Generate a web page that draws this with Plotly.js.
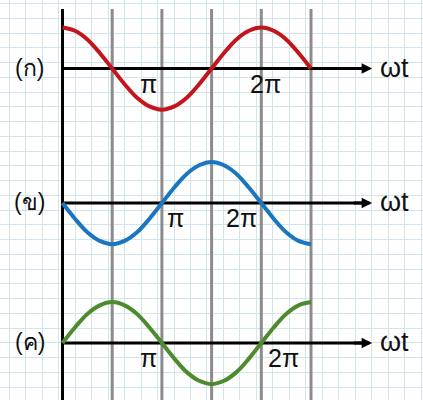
<!DOCTYPE html>
<html>
<head>
<meta charset="utf-8">
<script src="https://cdn.plot.ly/plotly-3.0.1.min.js"></script>
<style>
  html, body { margin: 0; padding: 0; background: #ffffff; }
  #chart { width: 423px; height: 400px; }
</style>
</head>
<body>
<div id="chart"></div>
<script>
// Phase in quarter periods (each grey guide line is a quarter period apart)
const phase = [0, 0.25, 0.5, 0.75, 1, 1.25, 1.5, 1.75, 2, 2.25, 2.5, 2.75, 3,
               3.25, 3.5, 3.75, 4, 4.25, 4.5, 4.75, 5];

// Wave (ก): starts at its peak
const waveA = [1, 0.92, 0.71, 0.38, 0, -0.38, -0.71, -0.92, -1, -0.92, -0.71, -0.38, 0,
               0.38, 0.71, 0.92, 1, 0.92, 0.71, 0.38, 0];
// Wave (ข): starts at zero going down
const waveB = [0, -0.38, -0.71, -0.92, -1, -0.92, -0.71, -0.38, 0, 0.38, 0.71, 0.92, 1,
               0.92, 0.71, 0.38, 0, -0.38, -0.71, -0.92, -1];
// Wave (ค): starts at zero going up
const waveC = [0, 0.38, 0.71, 0.92, 1, 0.92, 0.71, 0.38, 0, -0.38, -0.71, -0.92, -1,
               -0.92, -0.71, -0.38, 0, 0.38, 0.71, 0.92, 1];

const rowLabels = ['(ก)', '(ข)', '(ค)'];
const axisName = 'ωt';
// Text marks under each time axis: [label, phase position]
const marksA = [['π', 1.74], ['2π', 4.08]];
const marksB = [['π', 2.28], ['2π', 3.61]];
const marksC = [['π', 1.74], ['2π', 4.44]];
const guideLines = [1, 2, 3, 4, 5];

const colors = ['#c3161c', '#1b76c0', '#4e8b2e'];
const rows = [
  { y: waveA, axis: 'y2', range: [-8.07, 1.67], marks: marksA },
  { y: waveB, axis: 'y3', range: [-4.79, 4.94], marks: marksB },
  { y: waveC, axis: 'y4', range: [-1.39, 8.37], marks: marksC }
];

const font = { family: 'Liberation Sans, Arial, sans-serif', color: '#111111' };
const tipPhase = 6.23;
// Vertical extent of the guide lines on the background axis (top..bottom)
const guideTop = 9, guideBottom = 400;

const traces = [];

// Grey quarter-period guides, as one broken line
const gx = [], gy = [];
guideLines.forEach(g => { gx.push(g, g, null); gy.push(guideBottom, guideTop, null); });
traces.push({ type: 'scatter', mode: 'lines', x: gx, y: gy, xaxis: 'x', yaxis: 'y',
  line: { color: '#8c8c8c', width: 3 }, hoverinfo: 'skip', showlegend: false });

// Black vertical axis
traces.push({ type: 'scatter', mode: 'lines', x: [0, 0], y: [guideBottom, guideTop],
  xaxis: 'x', yaxis: 'y', line: { color: '#000000', width: 3 },
  hoverinfo: 'skip', showlegend: false });

// Time axes (drawn before the waves so the waves sit on top)
rows.forEach(r => traces.push({
  type: 'scatter', mode: 'lines', x: [0, tipPhase - 0.1], y: [0, 0],
  xaxis: 'x', yaxis: r.axis, line: { color: '#000000', width: 3 },
  hoverinfo: 'skip', showlegend: false
}));

// Waves
rows.forEach((r, i) => traces.push({
  type: 'scatter', mode: 'lines',
  x: phase, y: r.y, xaxis: 'x', yaxis: r.axis,
  line: { color: colors[i], width: 4, shape: 'spline', smoothing: 1 },
  hoverinfo: 'skip', showlegend: false
}));

const annotations = [];
rows.forEach((r, i) => {
  // Arrow head
  annotations.push({
    xref: 'x', yref: r.axis, axref: 'x', ayref: r.axis,
    x: tipPhase, y: 0, ax: tipPhase - 0.4, ay: 0, text: '',
    showarrow: true, arrowhead: 2, arrowsize: 0.7, arrowwidth: 3,
    arrowcolor: '#000000', standoff: 0, startstandoff: 0
  });
  // ωt
  annotations.push({
    xref: 'x', yref: r.axis, x: 6.69, y: 0, text: axisName, showarrow: false,
    font: Object.assign({ size: 27 }, font), xanchor: 'center', yanchor: 'middle', yshift: 1
  });
  // Row label
  annotations.push({
    xref: 'x', yref: r.axis, x: -0.655, y: 0, text: rowLabels[i], showarrow: false,
    font: Object.assign({ size: 23 }, font), xanchor: 'center', yanchor: 'middle', yshift: 1
  });
  // π markers
  r.marks.forEach(m => annotations.push({
    xref: 'x', yref: r.axis, x: m[1], y: 0, text: m[0], showarrow: false,
    font: Object.assign({ size: 25 }, font), xanchor: 'center', yanchor: 'middle', yshift: -15
  }));
});

const hiddenY = {
  overlaying: 'y', showgrid: false, zeroline: false, showticklabels: false,
  showline: false, ticks: '', fixedrange: true
};

const layout = {
  width: 423, height: 400,
  margin: { l: 0, r: 0, t: 0, b: 0, pad: 0 },
  paper_bgcolor: '#ffffff', plot_bgcolor: '#ffffff',
  showlegend: false,
  xaxis: {
    range: [-1.2575, 7.2535], domain: [0, 1],
    showgrid: true, gridcolor: '#d2e5eb', gridwidth: 1,
    tick0: -1.0704, dtick: 0.3314, ticks: '',
    showticklabels: false, zeroline: false, showline: false, fixedrange: true
  },
  yaxis: {
    range: [400, 0], domain: [0, 1],
    showgrid: true, gridcolor: '#d2e5eb', gridwidth: 1,
    tick0: 3.7, dtick: 14.75, ticks: '',
    showticklabels: false, zeroline: false, showline: false, fixedrange: true
  },
  yaxis2: Object.assign({ range: rows[0].range }, hiddenY),
  yaxis3: Object.assign({ range: rows[1].range }, hiddenY),
  yaxis4: Object.assign({ range: rows[2].range }, hiddenY),
  annotations: annotations
};

Plotly.newPlot('chart', traces, layout, { staticPlot: true, displayModeBar: false });
</script>
</body>
</html>
